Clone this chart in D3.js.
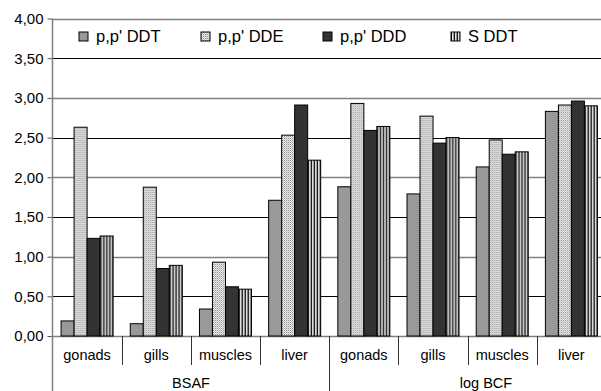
<!DOCTYPE html>
<html>
<head>
<meta charset="utf-8">
<script src="https://cdn.jsdelivr.net/npm/d3@7"></script>
<style>
  body { margin: 0; background: #fff; }
  text { font-family: "Liberation Sans", Arial, sans-serif; fill: #000; }
</style>
</head>
<body>
<svg id="chart" width="601" height="391"></svg>
<script>
// data
var groups = ["BSAF", "log BCF"];
var tissues = ["gonads", "gills", "muscles", "liver"];
var series = ["p,p' DDT", "p,p' DDE", "p,p' DDD", "S DDT"];
var ddt = [0.19, 0.155, 0.34, 1.71, 1.88, 1.79, 2.13, 2.83];
var dde = [2.63, 1.875, 0.93, 2.53, 2.93, 2.77, 2.47, 2.91];
var ddd = [1.23, 0.85, 0.62, 2.91, 2.59, 2.43, 2.29, 2.96];
var sddt = [1.26, 0.89, 0.59, 2.215, 2.64, 2.50, 2.32, 2.90];
var yTicks = [0, 0.5, 1, 1.5, 2, 2.5, 3, 3.5, 4];

var cats = [];
groups.forEach(function(g){ tissues.forEach(function(t){ cats.push(g + "|" + t); }); });
var values = [ddt, dde, ddd, sddt];
var rows = cats.map(function(c, i){
  return { cat: c, vals: series.map(function(s, j){ return { s: s, v: values[j][i] }; }) };
});

var svg = d3.select("#chart");
var plotL = 52.5, plotR = 606, plotT = 18.5, plotB = 336;

var x0 = d3.scaleBand().domain(cats).range([plotL, plotR]).padding(0);
var x1 = d3.scaleBand().domain(series).range([0, x0.bandwidth()]).paddingInner(0).paddingOuter(0.66);
var y = d3.scaleLinear().domain([0, 4]).range([plotB, plotT]);

// patterns
var defs = svg.append("defs");
var pDot = defs.append("pattern").attr("id", "dots").attr("patternUnits", "userSpaceOnUse")
  .attr("width", 2).attr("height", 2);
pDot.append("rect").attr("width", 2).attr("height", 2).attr("fill", "#eeeeee");
pDot.append("rect").attr("x", 0).attr("y", 0).attr("width", 1).attr("height", 1).attr("fill", "#8c8c8c");
pDot.append("rect").attr("x", 1).attr("y", 1).attr("width", 1).attr("height", 1).attr("fill", "#c4c4c4");
var pStripe = defs.append("pattern").attr("id", "stripes").attr("patternUnits", "userSpaceOnUse")
  .attr("width", 3).attr("height", 3);
pStripe.append("rect").attr("width", 3).attr("height", 3).attr("fill", "#e6e6e6");
pStripe.append("rect").attr("x", 0).attr("width", 1).attr("height", 3).attr("fill", "#111");
pStripe.append("rect").attr("x", 2).attr("width", 1).attr("height", 3).attr("fill", "#9a9a9a");

var fills = d3.scaleOrdinal().domain(series)
  .range(["#999999", "url(#dots)", "#333333", "url(#stripes)"]);

// gridlines
svg.append("g").selectAll("line")
  .data(yTicks)
  .enter()
  .append("line")
    .attr("x1", plotL).attr("x2", 601)
    .attr("y1", function(d){ return Math.round(y(d)) + 0.5; })
    .attr("y2", function(d){ return Math.round(y(d)) + 0.5; })
    .attr("stroke", function(d, i){ return i % 2 ? "#000" : "#808080"; })
    .attr("stroke-width", function(d, i){ return i % 2 ? 1 : 1.5; });

// bars
var cat = svg.append("g").selectAll("g")
  .data(rows)
  .enter()
  .append("g")
    .attr("transform", function(d){ return "translate(" + x0(d.cat) + ",0)"; });
cat.selectAll("rect")
  .data(function(d){ return d.vals; })
  .enter()
  .append("rect")
    .attr("x", function(d){ return x1(d.s); })
    .attr("y", function(d){ return y(d.v); })
    .attr("width", x1.bandwidth())
    .attr("height", function(d){ return y(0) - y(d.v); })
    .style("fill", function(d){ return fills(d.s); })
    .attr("stroke", "#000")
    .attr("stroke-width", 1);

// y axis
var yAxis = d3.axisLeft(y).tickValues(yTicks).tickSize(5).tickPadding(4)
  .tickFormat(function(d){ return d3.format(".2f")(d).replace(".", ","); });
var ya = svg.append("g").attr("transform", "translate(" + plotL + ",0)").call(yAxis);
ya.select(".domain").remove();
ya.selectAll("line").attr("stroke", "#555");
ya.selectAll("text").style("font-size", "15px").style("font-family", "Liberation Sans, Arial, sans-serif");
svg.append("line").attr("x1", plotL).attr("x2", plotL).attr("y1", plotT).attr("y2", 391)
  .attr("stroke", "#808080").attr("stroke-width", 1.5);

// x axis separators and labels
var bounds = cats.slice(1).map(function(c){ return x0(c); });
svg.append("g").selectAll("line")
  .data(bounds)
  .enter()
  .append("line")
    .attr("x1", function(d){ return Math.round(d) + 0.5; })
    .attr("x2", function(d){ return Math.round(d) + 0.5; })
    .attr("y1", plotB)
    .attr("y2", function(d, i){ return i === 3 ? 391 : 365; })
    .attr("stroke", "#333");

svg.append("g").selectAll("text")
  .data(rows)
  .enter()
  .append("text")
    .attr("x", function(d){ return x0(d.cat) + x0.bandwidth() / 2; })
    .attr("y", 360)
    .attr("text-anchor", "middle")
    .style("font-size", "14.5px")
    .text(function(d){ return d.cat.split("|")[1]; });

var gx = [191, 486];
svg.append("g").selectAll("text")
  .data(groups)
  .enter()
  .append("text")
    .attr("x", function(d, i){ return gx[i]; })
    .attr("y", 388)
    .attr("text-anchor", "middle")
    .style("font-size", "14.5px")
    .text(function(d){ return d; });

// legend
var legend = svg.append("g");
var lx = [79, 201, 323, 451];
var item = legend.selectAll("g")
  .data(series)
  .enter()
  .append("g")
    .attr("transform", function(d, i){ return "translate(" + lx[i] + ",32)"; });
item.append("rect")
  .attr("width", 9).attr("height", 9)
  .style("fill", function(d){ return fills(d); })
  .attr("stroke", "#000");
item.append("text")
  .attr("x", 17).attr("y", 10)
  .style("font-size", "16.5px")
  .text(function(d){ return d; });
</script>
</body>
</html>
